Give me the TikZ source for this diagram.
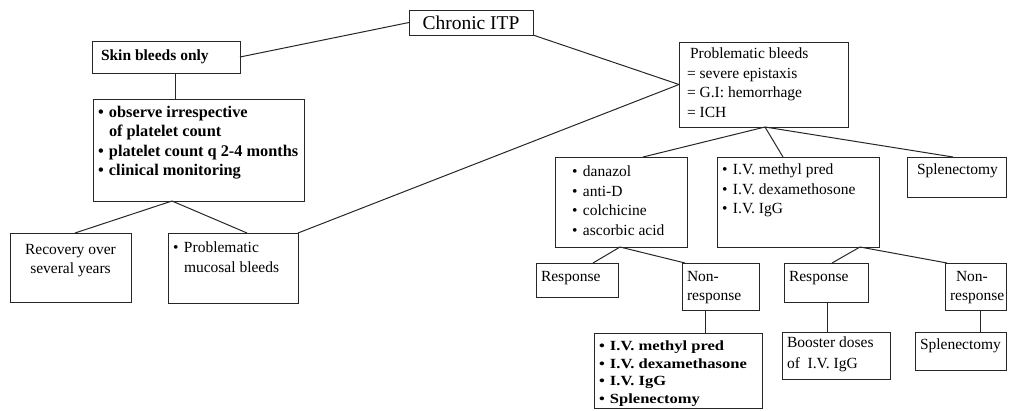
\documentclass[tikz,border=0pt]{standalone}
\usepackage{fontspec}
\setmainfont{Liberation Serif}

% a ruled box: [inner v-pos]{name}{left}{top}{width}{height}{text}, sizes in pt
\newcommand\bx[7][t]{%
  \node[box] (#2) at (#3pt,-#4pt)
    {\parbox[c][\dimexpr#6pt-6pt\relax][#1]{\dimexpr#5pt-10pt\relax}{\raggedright#7}};}
% bullet item and hanging continuation
\newcommand\itm[1]{\makebox[11pt][l]{•}#1}
\newcommand\cont{\hspace*{11pt}}

\tikzset{
  box/.style={draw=black!85, line width=1pt, anchor=north west,
    inner xsep=5pt, inner ysep=3pt, outer sep=0pt,
    font=\fontsize{15.5}{19.5}\selectfont},
  link/.style={draw=black!85, line width=1pt}
}

\begin{document}
\begin{tikzpicture}
\useasboundingbox (0,0) rectangle (1009pt,-410pt);

% top level
\bx[c]{itp}{409}{10}{124}{25}{\centering\fontsize{19.5}{22}\selectfont Chronic ITP}

% left branch
\bx[c]{skin}{92}{41}{148}{32}{\bfseries\hspace*{4pt}Skin bleeds only}
\bx{obs}{93}{99}{211}{102}{\fontsize{16.3}{19.5}\selectfont\bfseries\vspace*{4pt}%
  \itm{observe irrespective}\\
  \cont of platelet count\\
  \itm{platelet count q 2-4 months}\\
  \itm{clinical monitoring}}
\bx{rec}{10}{233}{121}{69}{\centering\vspace*{8pt}Recovery over\\several years}
\bx{muc}{168}{233}{130}{70}{\vspace*{6pt}\itm{Problematic}\\\cont mucosal bleeds}

% right branch
\bx{pb}{679}{42}{169}{85}{\vspace*{3pt}\hspace*{6pt}Problematic bleeds\\
  \hspace*{3pt}= severe epistaxis\\
  \hspace*{3pt}= G.I: hemorrhage\\
  \hspace*{3pt}= ICH}
\bx{dan}{555}{157}{132}{90}{\vspace*{6pt}%
  \hspace*{12pt}\itm{danazol}\\
  \hspace*{12pt}\itm{anti-D}\\
  \hspace*{12pt}\itm{colchicine}\\
  \hspace*{12pt}\itm{ascorbic acid}}
\bx{ivb}{717}{157}{162}{90}{\vspace*{4pt}%
  \itm{I.V. methyl pred}\\
  \itm{I.V. dexamethosone}\\
  \itm{I.V. IgG}}
\bx{spl}{907}{157}{99}{40}{\vspace*{4pt}\hspace*{5pt}Splenectomy}

\bx{ra}{536}{263}{82}{34}{\vspace*{5pt}Response}
\bx{na}{682}{263}{77}{47}{\vspace*{5pt}Non-\\response}
\bx{rb}{784}{263}{84}{39}{\vspace*{5pt}Response}
\bx{nb}{945}{263}{61}{47}{\vspace*{5pt}\hspace*{6pt}Non-\\response}

\bx{alt}{594}{333}{168}{75}{\fontsize{14}{17.5}\selectfont\bfseries
  \addfontfeature{FakeStretch=1.18}\vspace*{5pt}%
  \itm{I.V. methyl pred}\\
  \itm{I.V. dexamethasone}\\
  \itm{I.V. IgG}\\
  \itm{Splenectomy}}
\bx{boost}{782}{332}{108}{47}{\fontsize{15.5}{21}\selectfont\vspace*{2pt}Booster doses\\of~ I.V. IgG}
\bx{splb}{915}{332}{91}{38}{\vspace*{4pt}Splenectomy}

% connectors
\path[link] (skin.east) -- (itp.west);
\path[link] (itp.south east) -- (pb.west);
\path[link] ([xshift=83pt]skin.south west) -- ([xshift=82pt]obs.north west);
\path[link] ([xshift=79pt]obs.south west) -- ([xshift=65pt]rec.north west);
\path[link] ([xshift=79pt]obs.south west) -- ([xshift=79pt]muc.north west);
\path[link] (muc.north east) -- (pb.west);

\path[link] ([xshift=86pt]pb.south west) -- ([xshift=88pt]dan.north west);
\path[link] ([xshift=86pt]pb.south west) -- ([xshift=66pt]ivb.north west);
\path[link] ([xshift=86pt]pb.south west) -- ([xshift=46pt]spl.north west);

\path[link] ([xshift=65pt]dan.south west) -- ([xshift=57pt]ra.north west);
\path[link] ([xshift=65pt]dan.south west) -- ([xshift=3pt]na.north west);
\path[link] ([xshift=143pt]ivb.south west) -- ([xshift=48pt]rb.north west);
\path[link] ([xshift=143pt]ivb.south west) -- ([xshift=2pt]nb.north west);

\path[link] ([xshift=23pt]na.south west) -- ([xshift=111pt]alt.north west);
\path[link] ([xshift=43pt]rb.south west) -- ([xshift=45pt]boost.north west);
\path[link] ([xshift=35pt]nb.south west) -- ([xshift=65pt]splb.north west);
\end{tikzpicture}
\end{document}
